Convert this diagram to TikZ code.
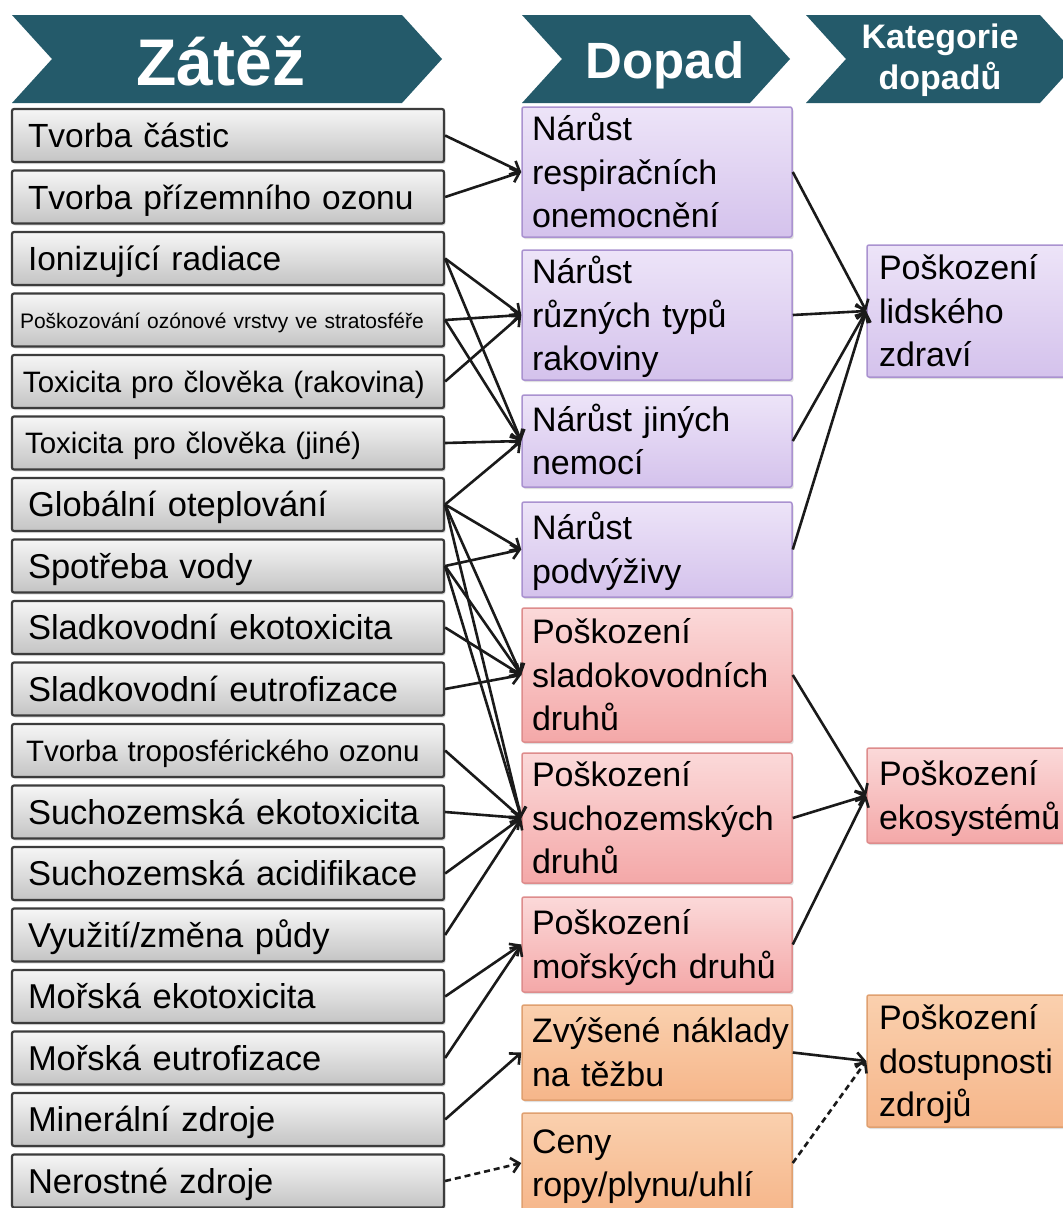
\documentclass[tikz,border=0pt]{standalone}
\usepackage{fontspec}
\setmainfont{Liberation Sans}
\usetikzlibrary{arrows.meta,shadows}

\definecolor{bannerteal}{HTML}{245A6A}
\definecolor{stressedge}{HTML}{3C3C3C}
\definecolor{stresstop}{HTML}{F6F6F6}
\definecolor{stressbot}{HTML}{C4C4C4}
\definecolor{lilacedge}{HTML}{AA92D0}
\definecolor{lilactop}{HTML}{EDE4F8}
\definecolor{lilacbot}{HTML}{D4C2EC}
\definecolor{roseedge}{HTML}{DE8C8C}
\definecolor{rosetop}{HTML}{FBD9D9}
\definecolor{rosebot}{HTML}{F4A8A8}
\definecolor{apricotedge}{HTML}{E0A070}
\definecolor{apricottop}{HTML}{FAD0AE}
\definecolor{apricotbot}{HTML}{F6B68A}
\definecolor{linkcol}{HTML}{1A1A1A}

\begin{document}
\begin{tikzpicture}[x=1pt,y=-1pt,
  softshadow/.style={drop shadow={shadow xshift=1.5pt,shadow yshift=-2pt,opacity=0.25}},
  stress/.style={softshadow,draw=stressedge,line width=2.2pt,rounded corners=2pt,
    top color=stresstop,bottom color=stressbot,
    minimum width=432pt,minimum height=53pt,
    inner xsep=16pt,inner ysep=0pt,text width=400pt,align=left,
    text height=30pt,text depth=6pt,
    font=\fontsize{34.5}{41}\selectfont},
  smaller/.style={font=\fontsize{29.5}{36}\selectfont,text height=27pt,text depth=6pt},
  box/.style={softshadow,line width=1.5pt,rounded corners=2pt,
    inner ysep=0pt,align=left,text height=30pt,
    font=\fontsize{34}{43.5}\selectfont},
  mid/.style={box,minimum width=270pt,text width=250pt,inner xsep=10pt},
  endpt/.style={box,minimum width=218pt,text width=194pt,inner xsep=12pt},
  two/.style={text depth=49.5pt},
  three/.style={text depth=93pt},
  health/.style={draw=lilacedge,top color=lilactop,bottom color=lilacbot},
  eco/.style={draw=roseedge,top color=rosetop,bottom color=rosebot},
  res/.style={draw=apricotedge,top color=apricottop,bottom color=apricotbot},
  link/.style={draw=linkcol,line width=2.6pt,-{Straight Barb[length=8pt,width=15pt]}},
  maybe/.style={link,dash pattern=on 6pt off 4pt},
  chevron/.style={fill=bannerteal},
  bannertext/.style={text=white,font=\bfseries\fontsize{#1}{#1}\selectfont,inner sep=0pt}
]
\useasboundingbox (0,0) rectangle (1063,1208);
\clip (0,0) rectangle (1063,1208);
\fill[white] (0,0) rectangle (1063,1208);

% column banners
\fill[chevron] (12,15) -- (402,15) -- (442,59) -- (402,103) -- (12,103) -- (52,59) -- cycle;
\fill[chevron] (522,15) -- (750,15) -- (790,59) -- (750,103) -- (522,103) -- (562,59) -- cycle;
\fill[chevron] (806,15) -- (1040,15) -- (1080,59) -- (1040,103) -- (806,103) -- (846,59) -- cycle;
\node[bannertext=66,anchor=base] (hStress) at (221,85) {Zátěž};
\node[bannertext=51,anchor=base] (hImpact) at (665,78) {Dopad};
\node[bannertext=34,text width=220pt,align=center,text height=25pt,text depth=47pt,
      font=\bfseries\fontsize{34}{41}\selectfont] (hCat) at (940,59) {Kategorie\\dopadů};

% stressors
\node[stress,font=\fontsize{33.5}{41}\selectfont] (L1) at (228,135.5) {Tvorba částic};
\node[stress,font=\fontsize{33.5}{41}\selectfont] (L2) at (228,197) {Tvorba přízemního ozonu};
\node[stress,font=\fontsize{33.5}{41}\selectfont] (L3) at (228,258.5) {Ionizující radiace};
\node[stress,inner xsep=8pt,text width=416pt,font=\fontsize{21}{26}\selectfont,
      text height=22pt,text depth=6pt] (L4) at (228,320) {Poškozování ozónové vrstvy ve stratosféře};
\node[stress,smaller,inner xsep=11pt,text width=410pt] (L5) at (228,381.5) {Toxicita pro člověka (rakovina)};
\node[stress,smaller,inner xsep=13pt,text width=406pt] (L6) at (228,443) {Toxicita pro člověka (jiné)};
\node[stress] (L7) at (228,504.5) {Globální oteplování};
\node[stress] (L8) at (228,566) {Spotřeba vody};
\node[stress] (L9) at (228,627.5) {Sladkovodní ekotoxicita};
\node[stress] (L10) at (228,689) {Sladkovodní eutrofizace};
\node[stress,smaller,inner xsep=14pt,text width=404pt] (L11) at (228,750.5) {Tvorba troposférického ozonu};
\node[stress] (L12) at (228,812) {Suchozemská ekotoxicita};
\node[stress] (L13) at (228,873.5) {Suchozemská acidifikace};
\node[stress] (L14) at (228,935) {Využití/změna půdy};
\node[stress] (L15) at (228,996.5) {Mořská ekotoxicita};
\node[stress] (L16) at (228,1058) {Mořská eutrofizace};
\node[stress] (L17) at (228,1119.5) {Minerální zdroje};
\node[stress] (L18) at (228,1181) {Nerostné zdroje};

% damage pathways
\node[mid,health,three,minimum height=130pt] (M1) at (657,172) {Nárůst\\respiračních\\onemocnění};
\node[mid,health,three,minimum height=130pt] (M2) at (657,315) {Nárůst\\různých typů\\rakoviny};
\node[mid,health,two,minimum height=92pt] (M3) at (657,441) {Nárůst jiných\\nemocí};
\node[mid,health,two,minimum height=95pt] (M4) at (657,549.5) {Nárůst\\podvýživy};
\node[mid,eco,three,minimum height=134pt] (M5) at (657,675) {Poškození\\sladokovodních\\druhů};
\node[mid,eco,three,minimum height=130pt] (M6) at (657,818) {Poškození\\suchozemských\\druhů};
\node[mid,eco,two,minimum height=95pt] (M7) at (657,944.5) {Poškození\\mořských druhů};
\node[mid,res,two,minimum height=95pt] (M8) at (657,1052.5) {\mbox{Zvýšené náklady}\\na těžbu};
\node[mid,res,two,minimum height=100pt] (M9) at (657,1163) {Ceny\\ropy/plynu/uhlí};

% endpoint categories
\node[endpt,health,three,minimum height=132pt] (R1) at (976,311) {Poškození\\lidského\\zdraví};
\node[endpt,eco,two,minimum height=95pt] (R2) at (976,795.5) {Poškození\\ekosystémů};
\node[endpt,res,three,minimum height=132pt] (R3) at (976,1061) {Poškození\\dostupnosti\\zdrojů};

% stressor -> pathway links
\foreach \a/\b in {L1/M1,L2/M1,L3/M2,L3/M3,L4/M2,L4/M3,L5/M2,L6/M3,
                   L7/M3,L7/M4,L7/M5,L7/M6,L8/M4,L8/M5,L8/M6,L9/M5,L10/M5,
                   L11/M6,L12/M6,L13/M6,L14/M6,L15/M7,L16/M7,L17/M8}
  \draw[link] (\a.east) -- (\b.west);
\draw[maybe] (L18.east) -- (M9.west);

% pathway -> category links
\foreach \a/\b in {M1/R1,M2/R1,M3/R1,M4/R1,M5/R2,M6/R2,M7/R2,M8/R3}
  \draw[link] (\a.east) -- (\b.west);
\draw[maybe] (M9.east) -- (R3.west);
\end{tikzpicture}
\end{document}
